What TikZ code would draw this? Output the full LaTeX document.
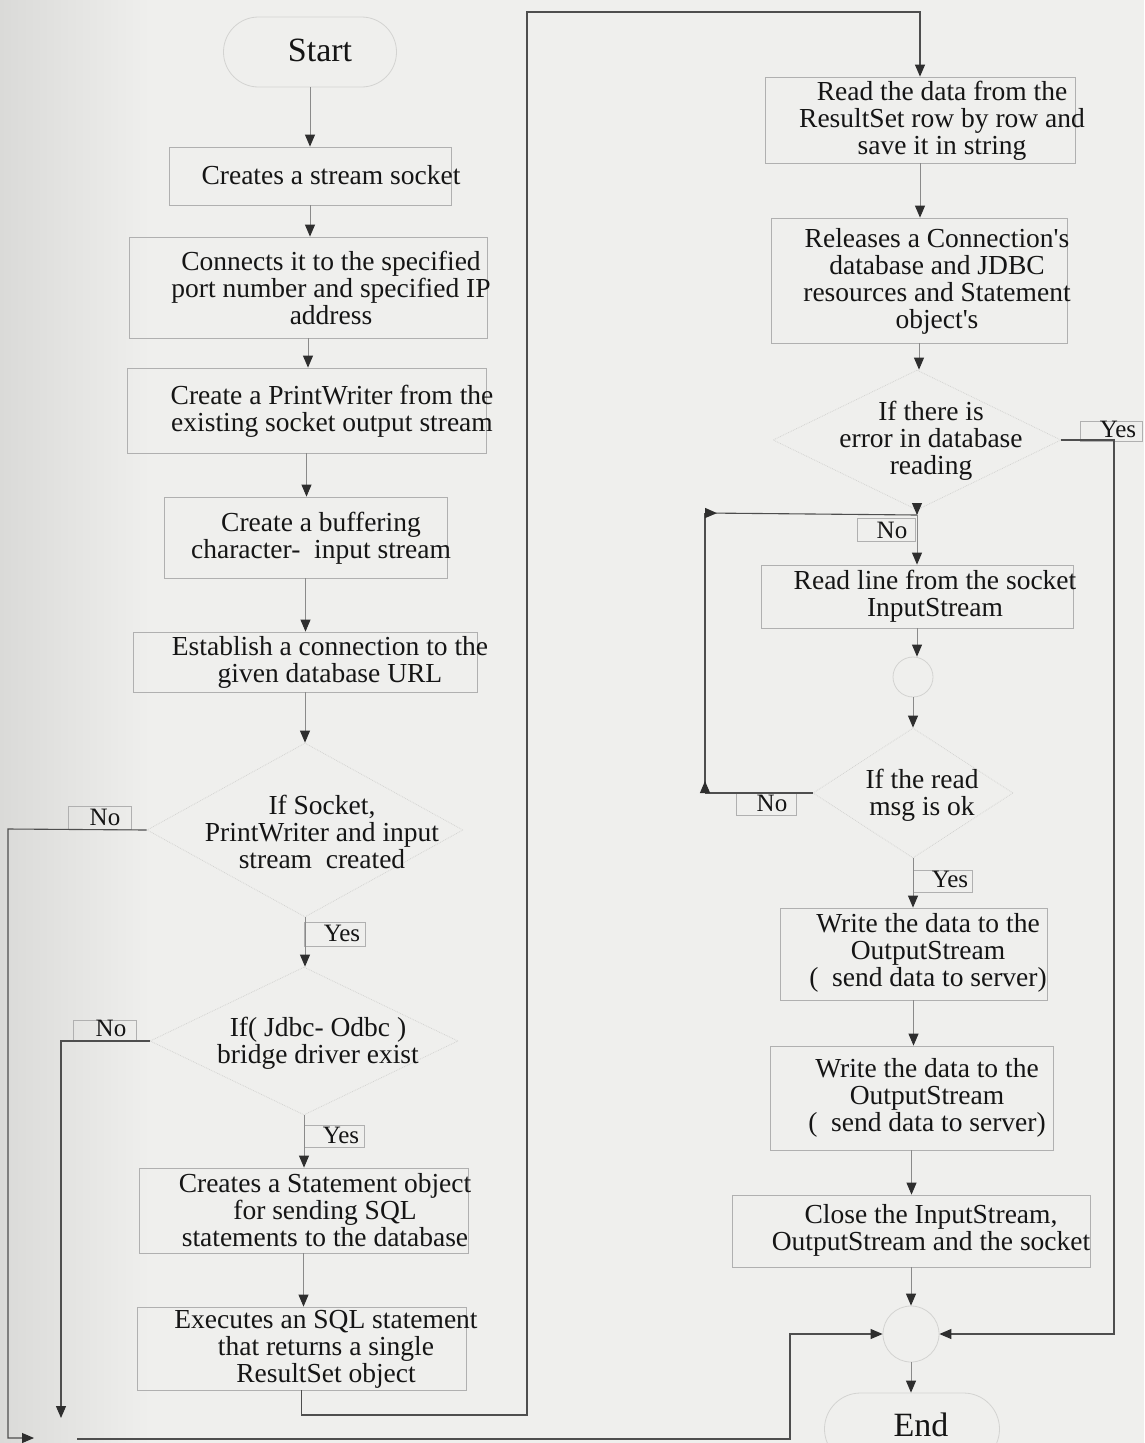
\documentclass[tikz,border=0pt]{standalone}
\usepackage{fontspec}
\setmainfont{Liberation Serif}
\usetikzlibrary{arrows.meta,shapes.geometric,shapes.misc,calc}

\definecolor{paper}{HTML}{EFEFED}
\definecolor{paperdark}{HTML}{DADAD8}
\definecolor{ink}{HTML}{151515}
\definecolor{wire}{HTML}{4E4E4E}
\definecolor{shortwire}{HTML}{8A8A8A}
\definecolor{tipcol}{HTML}{2E2E2E}
\definecolor{frame}{HTML}{B0B0B0}
\definecolor{faint}{HTML}{D3D3D1}

\begin{document}
\begin{tikzpicture}[x=1pt,y=-1pt,
  txt/.style={font=\fontsize{27.5}{27}\selectfont, align=center, inner sep=0pt, text=ink},
  bigtxt/.style={font=\fontsize{34}{36}\selectfont, inner sep=0pt, text=ink},
  lbltxt/.style={font=\fontsize{25}{26}\selectfont, inner sep=0pt, text=ink},
  procbox/.style={draw=frame, line width=0.8pt, inner sep=0pt, rectangle},
  lblbox/.style={draw=frame, line width=0.8pt, inner sep=0pt, rectangle},
  terminal/.style={draw=faint, line width=0.8pt, rounded rectangle, inner sep=0pt},
  decision/.style={draw=faint, line width=0.8pt, densely dotted, diamond, inner sep=0pt},
  joint/.style={draw=faint, line width=0.8pt, circle, inner sep=0pt},
  tip/.tip={Triangle[width=10pt,length=12pt,color=tipcol]},
  flow/.style={draw=shortwire, line width=0.9pt, -{tip}},
  wire/.style={draw=wire, line width=1.1pt},
  back/.style={draw=wire, line width=1.1pt, {Triangle[reversed,width=10pt,length=12pt,color=tipcol]}-}
]
% paper
\useasboundingbox (0,0) rectangle (1144,1443);
\fill[paper] (0,0) rectangle (1144,1443);
\shade[left color=paperdark, right color=paper] (0,0) rectangle (150,1443);

% ---------- left column ----------
\node[terminal, minimum width=173pt, minimum height=70pt] (start) at (310,52) {};
\node[bigtxt] (startT) at (320,50) {Start};

\node[procbox, minimum width=282pt, minimum height=58pt] (b1) at (310,176) {};
\node[txt] (b1T) at (331,175) {Creates a stream socket};

\node[procbox, minimum width=358pt, minimum height=101pt] (b2) at (308,287.5) {};
\node[txt] (b2T) at (331,288) {Connects it to the specified\\port number and specified IP\\address};

\node[procbox, minimum width=359pt, minimum height=85pt] (b3) at (306.5,410.5) {};
\node[txt] (b3T) at (332,411) {Create a PrintWriter from the\\existing socket output stream};

\node[procbox, minimum width=283pt, minimum height=81pt] (b4) at (305.5,537.5) {};
\node[txt] (b4T) at (321,538) {Create a buffering\\character-~ input stream};

\node[procbox, minimum width=344pt, minimum height=60pt] (b5) at (305,662) {};
\node[txt] (b5T) at (330,662) {Establish a connection to the\\given database URL};

\node[decision, minimum width=316pt, minimum height=174pt] (d1) at (305,830) {};
\node[txt] (d1T) at (322,832) {If Socket,\\PrintWriter and input\\stream~ created};

\node[decision, minimum width=308pt, minimum height=148pt] (d2) at (304,1041) {};
\node[txt] (d2T) at (318,1043) {If( Jdbc- Odbc )\\bridge driver exist};

\node[procbox, minimum width=329pt, minimum height=85pt] (b6) at (303.5,1210.5) {};
\node[txt] (b6T) at (325,1210) {Creates a Statement object\\for sending SQL\\statements to the database};

\node[procbox, minimum width=329pt, minimum height=83pt] (b7) at (301.5,1348.5) {};
\node[txt] (b7T) at (326,1349) {Executes an SQL statement\\that returns a single\\ResultSet object};

% ---------- right column ----------
\node[procbox, minimum width=310pt, minimum height=86pt] (b8) at (920,120) {};
\node[txt] (b8T) at (942,121) {Read the data from the\\ResultSet row by row and\\save it in string};

\node[procbox, minimum width=296pt, minimum height=125pt] (b9) at (919,280.5) {};
\node[txt] (b9T) at (937,281) {Releases a Connection\textquotesingle s\\database and JDBC\\resources and Statement\\object\textquotesingle s};

\node[decision, minimum width=288pt, minimum height=140pt] (d3) at (917,440) {};
\node[txt] (d3T) at (931,441) {If there is\\error in database\\reading};

\node[procbox, minimum width=312pt, minimum height=63pt] (b10) at (917,596.5) {};
\node[txt] (b10T) at (935,596) {Read line from the socket\\InputStream};

\node[joint, minimum size=40pt] (c1) at (913,677) {};

\node[decision, minimum width=200pt, minimum height=130pt] (d4) at (913,793) {};
\node[txt] (d4T) at (922,795) {If the read\\msg is ok};

\node[procbox, minimum width=267pt, minimum height=92pt] (b11) at (913.5,954) {};
\node[txt] (b11T) at (928,953) {Write the data to the\\OutputStream\\(~ send data to server)};

\node[procbox, minimum width=283pt, minimum height=104pt] (b12) at (911.5,1098) {};
\node[txt] (b12T) at (927,1098) {Write the data to the\\OutputStream\\(~ send data to server)};

\node[procbox, minimum width=358pt, minimum height=72pt] (b13) at (911,1231) {};
\node[txt] (b13T) at (931,1230) {Close the InputStream,\\OutputStream and the socket};

\node[joint, minimum size=56pt] (c2) at (911,1334) {};

\node[terminal, minimum width=175pt, minimum height=72pt] (stop) at (912,1429) {};
\node[bigtxt] (stopT) at (921,1425) {End};

% ---------- branch labels ----------
\node[lblbox, minimum width=63pt, minimum height=23pt] (no1) at (99.5,817.5) {};
\node[lbltxt] (no1T) at (105,817) {No};
\node[lblbox, minimum width=61pt, minimum height=24pt] (yes1) at (334.5,934) {};
\node[lbltxt] (yes1T) at (342,933) {Yes};
\node[lblbox, minimum width=63pt, minimum height=20pt] (no2) at (104.5,1030) {};
\node[lbltxt] (no2T) at (111,1028) {No};
\node[lblbox, minimum width=60pt, minimum height=22pt] (yes2) at (334,1136) {};
\node[lbltxt] (yes2T) at (341,1135) {Yes};
\node[lblbox, minimum width=62pt, minimum height=20pt] (yes3) at (1111,431) {};
\node[lbltxt] (yes3T) at (1118,429) {Yes};
\node[lblbox, minimum width=58pt, minimum height=23pt] (no3) at (886,530) {};
\node[lbltxt] (no3T) at (892,530) {No};
\node[lblbox, minimum width=60pt, minimum height=22pt] (no4) at (766,804) {};
\node[lbltxt] (no4T) at (772,803) {No};
\node[lblbox, minimum width=59pt, minimum height=22pt] (yes4) at (942.5,881) {};
\node[lbltxt] (yes4T) at (950,879) {Yes};

% ---------- routing points ----------
\coordinate (n1a) at (8,829);
\coordinate (n1b) at (8,1438);
\coordinate (n1c) at (34,1438);
\coordinate (n2a) at (61,1041);
\coordinate (n2b) at (61,1418);
\coordinate (m0) at (77,1439);
\coordinate (m1) at (790,1439);
\coordinate (m2) at (790,1334);
\coordinate (k1) at (527,1415);
\coordinate (k2) at (527,12);
\coordinate (y3a) at (1114,440);
\coordinate (y3b) at (1114,1334);
\coordinate (lp1) at (705,793);
\coordinate (lp2) at (705,513);
\coordinate (j3) at (917,515);

% ---------- straight flow ----------
\draw[flow] (start.south) -- (start.south |- b1.north);
\draw[flow] (b1.south) -- (b1.south |- b2.north);
\draw[flow] (b2.south) -- (b2.south |- b3.north);
\draw[flow] (b3.south) -- (b3.south |- b4.north);
\draw[flow] (b4.south) -- (b4.south |- b5.north);
\draw[flow] (b5.south) -- (b5.south |- d1.north);
\draw[flow] (d1.south) -- (d1.south |- d2.north);
\draw[flow] (d2.south) -- (d2.south |- b6.north);
\draw[flow] (b6.south) -- (b6.south |- b7.north);

\draw[flow] (b8.south) -- (b8.south |- b9.north);
\draw[flow] (b9.south) -- (b9.south |- d3.north);
\draw[flow] (d3.south) -- (j3);
\draw[flow] (j3) -- (j3 |- b10.north);
\draw[flow] (b10.south) -- (b10.south |- c1.north);
\draw[flow] (c1.south) -- (c1.south |- d4.north);
\draw[flow] (d4.south) -- (d4.south |- b11.north);
\draw[flow] (b11.south) -- (b11.south |- b12.north);
\draw[flow] (b12.south) -- (b12.south |- b13.north);
\draw[flow] (b13.south) -- (b13.south |- c2.north);
\draw[flow] (c2.south) -- (c2.south |- stop.north);

% ---------- long connectors ----------
\draw[wire, -{tip}] (d1.west) -- (n1a) -- (n1b) -- (n1c);
\draw[wire, -{tip}] (d2.west) -- (n2a) -- (n2b);
\draw[wire, -{tip}] (m0) -- (m1) -- (m2) -- (c2.west);
\draw[wire, -{tip}] (b7.south) |- (k1) -- (k2) -| (b8.north);
\draw[wire, -{tip}] (d3.east) -- (y3a) -- (y3b) -- (c2.east);
\draw[wire] (d4.west) -- (lp1);
\draw[back] (lp1) -- (lp2);
\draw[back] (lp2) -- (j3);

\end{tikzpicture}
\end{document}
